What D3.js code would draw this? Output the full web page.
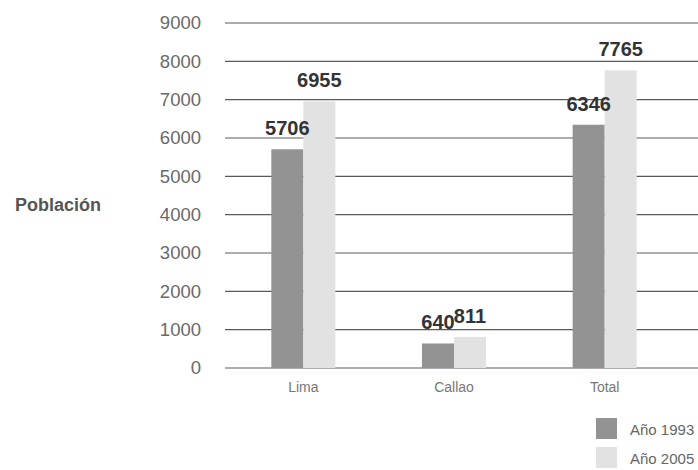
<!DOCTYPE html>
<html><head><meta charset="utf-8">
<script src="https://cdn.jsdelivr.net/npm/d3@7"></script>
<style>body{margin:0;background:#fff}svg{display:block}</style>
</head><body>
<script>
const categories = ["Lima", "Callao", "Total"];
const seriesNames = ["Año 1993", "Año 2005"];
const values1993 = [5706, 640, 6346];
const values2005 = [6955, 811, 7765];
const yTicks = [0, 1000, 2000, 3000, 4000, 5000, 6000, 7000, 8000, 9000];

const W = 698, H = 470;
const colors = ["#939393", "#e2e2e2"];
const font = "'Liberation Sans', Arial, sans-serif";

const svg = d3.select("body").append("svg").attr("width", W).attr("height", H);

const y = d3.scaleLinear().domain([0, 9000]).range([368, 23]);
const x0 = d3.scaleBand().domain(categories).range([228, 680]).paddingInner(0.575).paddingOuter(0.2875);
const x1 = d3.scaleBand().domain(seriesNames).range([0, x0.bandwidth()]);

// gridlines
svg.append("g").selectAll("line").data(yTicks).join("line")
  .attr("x1", 225).attr("x2", W)
  .attr("y1", d => y(d)).attr("y2", d => y(d))
  .attr("stroke", "#5a5a5a").attr("stroke-width", 1.2);

// y axis labels
const yAxis = d3.axisLeft(y).tickValues(yTicks).tickSize(0).tickPadding(0).tickFormat(d3.format("d"));
const gy = svg.append("g").attr("transform", "translate(201,0)").call(yAxis);
gy.select(".domain").remove();
gy.selectAll("text").attr("font-family", font).attr("font-size", 18.5).attr("fill", "#6a6a6a");

// bars
const data = categories.map((c, i) => ({cat: c, vals: [values1993[i], values2005[i]]}));
const groups = svg.append("g").selectAll("g").data(data).join("g")
  .attr("transform", d => `translate(${x0(d.cat)},0)`);
groups.selectAll("rect").data(d => d.vals.map((v, j) => ({s: seriesNames[j], v, j})))
  .join("rect")
  .attr("x", d => x1(d.s)).attr("width", x1.bandwidth())
  .attr("y", d => y(d.v)).attr("height", d => y(0) - y(d.v))
  .attr("fill", d => colors[d.j]);

// value labels
groups.selectAll("text").data(d => d.vals.map((v, j) => ({s: seriesNames[j], v, j})))
  .join("text")
  .attr("x", d => x1(d.s) + x1.bandwidth() / 2)
  .attr("y", d => y(d.v) - 14)
  .attr("text-anchor", "middle")
  .attr("font-family", font).attr("font-weight", "bold").attr("font-size", 20)
  .attr("fill", "#333")
  .text(d => d.v);

// x axis labels
const xAxis = d3.axisBottom(x0).tickSize(0).tickPadding(0);
const gx = svg.append("g").attr("transform", "translate(0,392)").call(xAxis);
gx.select(".domain").remove();
gx.selectAll("text").attr("dy", 0).attr("font-family", font).attr("font-size", 14).attr("fill", "#777");

// y title
svg.append("text").attr("x", 15).attr("y", 211)
  .attr("font-family", font).attr("font-weight", "bold").attr("font-size", 18)
  .attr("fill", "#555").text("Población");

// legend
const lg = svg.append("g").selectAll("g").data(seriesNames).join("g")
  .attr("transform", (d, i) => `translate(596,${418 + i * 29})`);
lg.append("rect").attr("width", 21).attr("height", 21).attr("fill", (d, i) => colors[i]);
lg.append("text").attr("x", 34).attr("y", 17)
  .attr("font-family", font).attr("font-size", 15).attr("fill", "#666").text(d => d);
</script>
</body></html>
